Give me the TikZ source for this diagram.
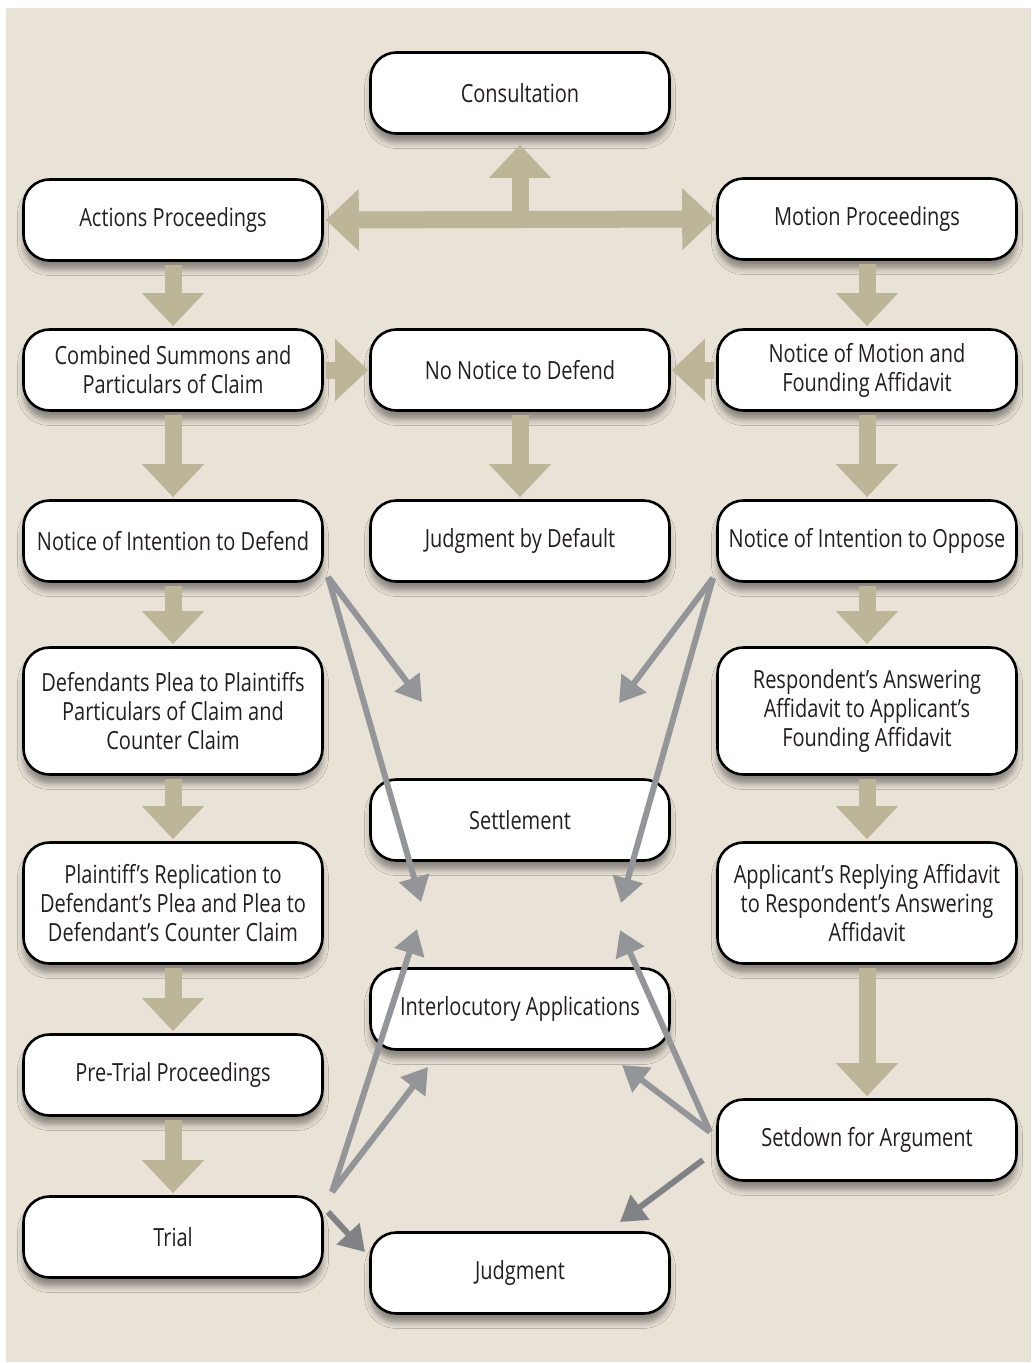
\documentclass[tikz,border=0pt]{standalone}
\usepackage{fontspec}
\setmainfont[FakeStretch=0.80]{Open Sans}
\usetikzlibrary{arrows.meta,shadows.blur,calc}
\definecolor{bgc}{HTML}{E9E2D6}
\definecolor{tanc}{HTML}{BCB598}
\definecolor{greyc}{HTML}{939598}
\definecolor{darkgreyc}{HTML}{808285}
\definecolor{txtc}{HTML}{231F20}
\begin{document}
\begin{tikzpicture}[x=1pt,y=-1pt,
  box/.style={draw=black, line width=2.6pt, fill=white, rounded corners=26pt,
    minimum width=299pt, minimum height=81pt, align=center, inner sep=4pt,
    font=\fontsize{25}{29}\selectfont, text=txtc,
    blur shadow={shadow xshift=0pt, shadow yshift=-9pt, shadow blur radius=6pt, shadow opacity=40}},
  bigarrow/.style={draw=tanc, line width=17pt, -{Triangle[width=60pt,length=33pt]}},
  grarrow/.style={draw=greyc, line width=6pt, -{Triangle[width=30pt,length=25pt]}},
  dgarrow/.style={draw=darkgreyc, line width=6pt, -{Triangle[width=30pt,length=25pt]}}
]
\useasboundingbox (0,0) rectangle (1031,1363);
\fill[bgc] (6,8) rectangle (1031,1362);

% boxes
\node[box] (cons) at (520,93) {Consultation};
\node[box] (act) at (173,220) {Actions Proceedings};
\node[box] (mot) at (867,219) {Motion Proceedings};
\node[box] (comb) at (173,370) {Combined Summons and\\Particulars of Claim};
\node[box] (nond) at (520,370) {No Notice to Defend};
\node[box] (nom) at (867,370) {Notice of Motion and\\Founding Affidavit};
\node[box] (nid) at (173,541) {Notice of Intention to Defend};
\node[box] (jbd) at (520,541) {Judgment by Default};
\node[box] (nio) at (867,541) {Notice of Intention to Oppose};
\node[box, minimum height=127pt] (dp) at (173,711) {Defendants Plea to Plaintiffs\\Particulars of Claim and\\Counter Claim};
\node[box, minimum height=127pt] (ra) at (867,711) {Respondent’s Answering\\Affidavit to Applicant’s\\Founding Affidavit};
\node[box] (sett) at (520,820) {Settlement};
\node[box, minimum height=121pt] (pr) at (173,903) {Plaintiff’s Replication to\\Defendant’s Plea and Plea to\\Defendant’s Counter Claim};
\node[box, minimum height=121pt] (aa) at (867,903) {Applicant’s Replying Affidavit\\to Respondent’s Answering\\Affidavit};
\node[box] (inter) at (520,1009) {Interlocutory Applications};
\node[box] (pt) at (173,1075) {Pre-Trial Proceedings};
\node[box] (sd) at (867,1140) {Setdown for Argument};
\node[box] (trial) at (173,1237) {Trial};
\node[box] (judg) at (520,1273) {Judgment};

% beige arrows
\coordinate (jn) at (520,220);
\draw[bigarrow, {Triangle[width=60pt,length=33pt]}-{Triangle[width=60pt,length=33pt]}, shorten <=2pt, shorten >=1pt] (act.east) -- (mot.west);
\draw[bigarrow, shorten >=10pt] (jn) -- (cons.south);
\foreach \a/\b in {act/comb, comb/nid, nid/dp, dp/pr, pr/pt, pt/trial, mot/nom, nom/nio, nio/ra, ra/aa, aa/sd, nond/jbd}
  \draw[bigarrow, shorten <=3pt, shorten >=2pt] (\a.south) -- (\b.north);
\draw[bigarrow, shorten <=2pt, shorten >=1pt] (comb.east) -- (nond.west);
\draw[bigarrow, shorten <=2pt, shorten >=1pt] (nom.west) -- (nond.east);

% grey arrows
\coordinate (a0) at (328,577);
\coordinate (a1) at (422,702);
\coordinate (a2) at (421,902);
\coordinate (b0) at (713,578);
\coordinate (b1) at (619,703);
\coordinate (b2) at (621,903);
\coordinate (c0) at (332,1192);
\coordinate (c1) at (417,929);
\coordinate (c2) at (428,1067);
\coordinate (d0) at (710,1132);
\coordinate (d1) at (620,930);
\coordinate (d2) at (622,1065);
\coordinate (e0) at (328,1212);
\coordinate (e1) at (365,1252);
\coordinate (f0) at (703,1160);
\coordinate (f1) at (620,1222);
\draw[grarrow] (a0) -- (a1);
\draw[grarrow] (a0) -- (a2);
\draw[grarrow] (b0) -- (b1);
\draw[grarrow] (b0) -- (b2);
\draw[grarrow] (c0) -- (c1);
\draw[grarrow] (c0) -- (c2);
\draw[grarrow] (d0) -- (d1);
\draw[grarrow] (d0) -- (d2);
\draw[dgarrow] (e0) -- (e1);
\draw[dgarrow] (f0) -- (f1);
\end{tikzpicture}
\end{document}
